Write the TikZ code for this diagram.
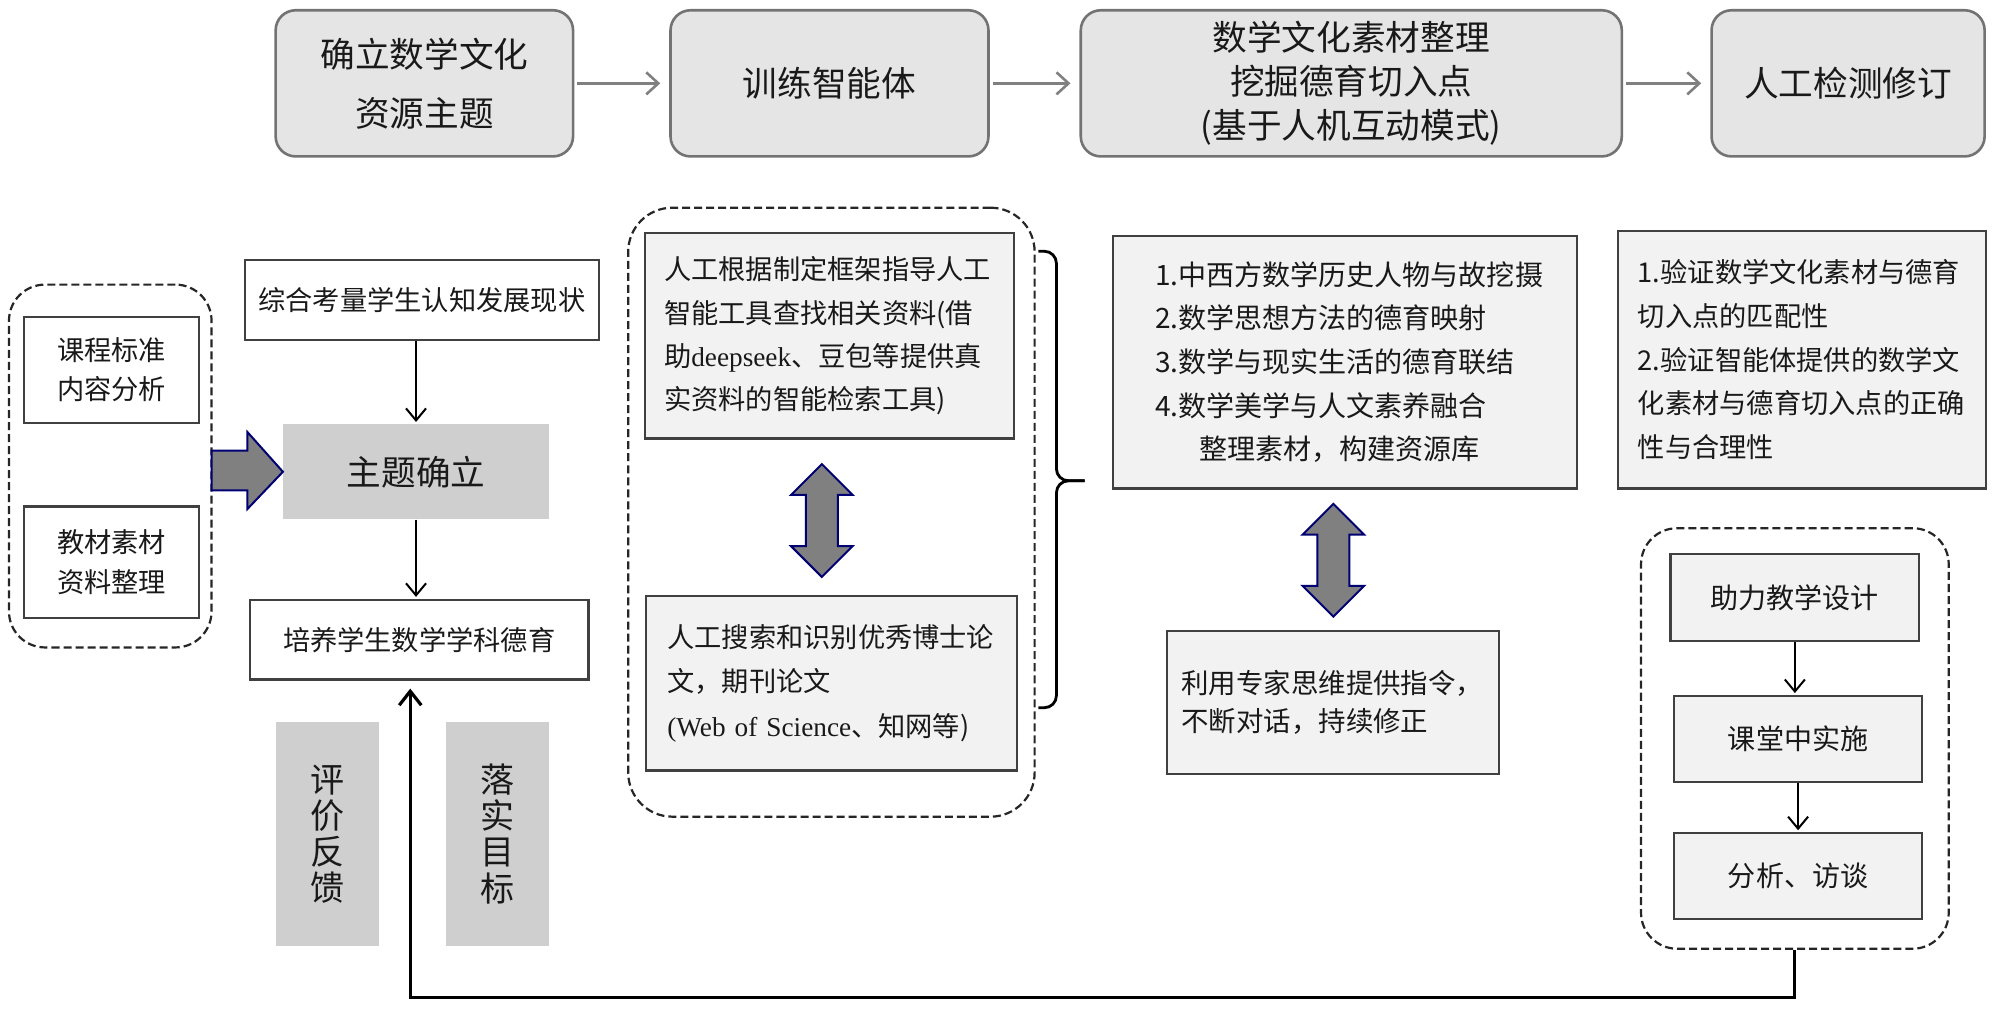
\documentclass[tikz,border=0pt]{standalone}
\usepackage{fontspec}
\setmainfont{Noto Sans CJK SC}
\newfontfamily\lat{Liberation Serif}
\usetikzlibrary{arrows.meta}
\begin{document}
\begin{tikzpicture}[x=0.64pt,y=-0.64pt,
  bx/.style n args={4}{minimum width={(#3-#1)*0.64pt}, minimum height={(#4-#2)*0.64pt}, at={({(#1+#3)/2},{(#2+#4)/2})}},
  tw/.style={text width={#1*0.64pt}},
  txt/.style={font=\fontsize{13.6pt}{21.6pt}\selectfont, text=black!90},
  topbox/.style={draw=black!55, line width=1.3pt, fill=black!10, rounded corners=10pt, inner sep=0pt, align=center, text=black!90},
  wbox/.style={draw=black!75, line width=1.1pt, fill=white, inner sep=0pt, align=center, txt},
  lbox/.style={draw=black!75, line width=1.1pt, fill=black!5, inner sep=0pt, align=left, txt},
  gbox/.style={fill=black!19, inner sep=0pt, align=center, text=black!90},
  dbox/.style={draw=black!85, dash pattern=on 4pt off 2pt, line width=1.1pt, rounded corners=18pt, inner sep=0pt},
  arr/.style={-{Straight Barb[length=6pt,width=10pt]}, line width=1pt, draw=black},
  garr/.style={-{Straight Barb[length=6pt,width=11pt]}, draw=black!50, line width=1.3pt},
  blk/.style={fill=black!50, draw=blue!45!black, line width=1pt, line join=miter}
]
\useasboundingbox (0,0) rectangle (1560,787);

% top row
\node[topbox, bx={215}{8}{447}{122}, font=\fontsize{17.3pt}{29.4pt}\selectfont] (t1) {确立数学文化\\资源主题};
\node[topbox, bx={523}{8}{771}{122}, font=\fontsize{17.3pt}{22pt}\selectfont] (t2) {训练智能体};
\node[topbox, bx={843}{8}{1265}{122}, font=\fontsize{17.3pt}{22pt}\selectfont] (t3) {数学文化素材整理\\挖掘德育切入点\\(基于人机互动模式)};
\node[topbox, bx={1335}{8}{1548}{122}, font=\fontsize{17.3pt}{22pt}\selectfont] (t4) {人工检测修订};
\draw[garr, shorten <=1.5pt, shorten >=4.5pt] (t1) -- (t2);
\draw[garr, shorten <=1.5pt, shorten >=4.5pt] (t2) -- (t3);
\draw[garr, shorten <=1.5pt, shorten >=4.5pt] (t3) -- (t4);

% left column
\node[dbox, bx={7}{222}{165}{505}] (ld) {};
\node[wbox, bx={19}{247}{155}{330}, font=\fontsize{13.6pt}{19.2pt}\selectfont] (kc) {课程标准\\内容分析};
\node[wbox, bx={19}{395}{155}{482}, font=\fontsize{13.6pt}{19.8pt}\selectfont] (jc) {教材素材\\资料整理};
\node[wbox, bx={191}{203}{467}{265}] (zh) {综合考量学生认知发展现状};
\node[gbox, bx={221}{331}{428}{405}, font=\fontsize{17.3pt}{22pt}\selectfont] (zt) {主题确立};
\node[wbox, bx={195}{468}{459}{530}] (py) {培养学生数学学科德育};
\node[gbox, bx={215}{563}{296}{738}, font=\fontsize{17pt}{18pt}\selectfont] (pj) {评\\价\\反\\馈};
\node[gbox, bx={348}{563}{428}{738}, font=\fontsize{17pt}{18pt}\selectfont] (ls) {落\\实\\目\\标};
\draw[arr, shorten >=1pt] (zh.south -| zt.north) -- (zt.north);
\draw[arr, shorten >=1pt] (zt.south) -- (zt.south |- py.north);
\filldraw[blk] (165,351.5) -- (193,351.5) -- (193,337) -- (zt.west) -- (193,397) -- (193,382.5) -- (165,382.5) -- cycle;

% middle column
\node[dbox, rounded corners=22pt, bx={490}{162}{807}{637}] (md) {};
\node[lbox, bx={503}{182}{791}{342}, tw=258] (m1) {人工根据制定框架指导人工\\智能工具查找相关资料(借\\助{\lat deepseek}、豆包等提供真\\实资料的智能检索工具)};
\node[lbox, bx={504}{465}{793}{601}, tw=256, font=\fontsize{13.6pt}{22.4pt}\selectfont] (m2) {人工搜索和识别优秀博士论\\文，期刊论文\\{\lat (Web of Science}、知网等)};
\filldraw[blk] (641,362) -- (665,386) -- (653.5,386) -- (653.5,426) -- (665,426) -- (641,450) -- (617,426) -- (628.5,426) -- (628.5,386) -- (617,386) -- cycle;
\draw[line width=1.4pt, rounded corners=6pt] (810,196) -| (824,375) -- (846,375);
\draw[line width=1.4pt, rounded corners=6pt] (846,375) -- (824,375) |- (810,552);

% right-middle column
\node[lbox, bx={868}{184}{1230}{381}, tw=296, font=\fontsize{14pt}{21.8pt}\selectfont] (r1) {1.中西方数学历史人物与故挖摄\\2.数学思想方法的德育映射\\3.数学与现实生活的德育联结\\4.数学美学与人文素养融合\\\hspace*{22pt}整理素材，构建资源库};
\filldraw[blk] (1040,393) -- (1064,417) -- (1052.5,417) -- (1052.5,457) -- (1064,457) -- (1040,481) -- (1016,457) -- (1027.5,457) -- (1027.5,417) -- (1016,417) -- cycle;
\node[lbox, bx={910}{492}{1169}{604}, tw=236, font=\fontsize{13.7pt}{19.2pt}\selectfont] (r3) {利用专家思维提供指令，\\不断对话，持续修正};

% right column
\node[lbox, bx={1262}{180}{1549}{381}, tw=256, font=\fontsize{13.6pt}{21.8pt}\selectfont] (r2) {1.验证数学文化素材与德育\\切入点的匹配性\\2.验证智能体提供的数学文\\化素材与德育切入点的正确\\性与合理性};
\node[dbox, bx={1280}{412}{1520}{740}] (rd) {};
\node[lbox, align=center, bx={1303}{432}{1497}{500}, font=\fontsize{14pt}{18pt}\selectfont] (s1) {助力教学设计};
\node[lbox, align=center, bx={1306}{543}{1499}{610}, font=\fontsize{14pt}{18pt}\selectfont] (s2) {课堂中实施};
\node[lbox, align=center, bx={1306}{650}{1499}{717}, font=\fontsize{14pt}{18pt}\selectfont] (s3) {分析、访谈};
\draw[arr, shorten >=1pt] (s1.south) -- (s1.south |- s2.north);
\draw[arr, shorten >=1pt] (s2.south) -- (s2.south |- s3.north);

% feedback loop
\coordinate (fb) at (320,778);
\draw[-{Straight Barb[length=7pt,width=11pt]}, line width=1.6pt, shorten >=4pt] (rd.south) |- (fb) -- (fb |- py.south);
\end{tikzpicture}
\end{document}
